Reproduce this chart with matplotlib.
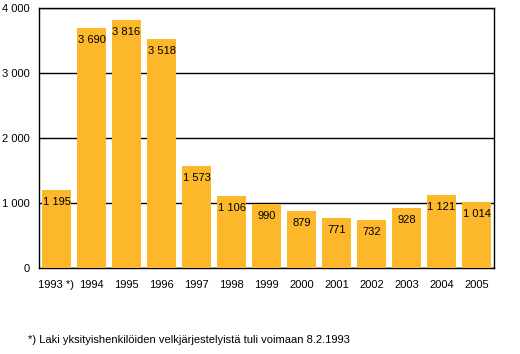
import matplotlib
matplotlib.use("Agg")
import matplotlib.pyplot as plt

years = ["1993 *)", "1994", "1995", "1996", "1997", "1998", "1999",
         "2000", "2001", "2002", "2003", "2004", "2005"]
values = [1195, 3690, 3816, 3518, 1573, 1106, 990, 879, 771, 732, 928, 1121, 1014]
yticks = [0, 1000, 2000, 3000, 4000]
footnote = "*) Laki yksityishenkilöiden velkjärjestelyistä tuli voimaan 8.2.1993"

BAR_COLOR = "#fcb82a"


def fmt(v):
    return f"{v:,}".replace(",", " ")


plt.rcParams["font.family"] = ["Liberation Sans", "DejaVu Sans"]
plt.rcParams["font.size"] = 8

fig = plt.figure(figsize=(5.2, 3.54), dpi=100)
ax = fig.add_axes([0.075, 0.243, 0.875, 0.734])

x = list(range(len(years)))
ax.bar(x, values, width=0.83, color=BAR_COLOR, zorder=3)

for xi, v in zip(x, values):
    ax.annotate(fmt(v), (xi, v), xytext=(0, -8.6), textcoords="offset points",
                ha="center", va="center", fontsize=8, zorder=4)

ax.set_xlim(-0.5, len(years) - 0.5)
ax.set_ylim(0, 4000)
ax.set_yticks(yticks)
ax.set_yticklabels([fmt(t) for t in yticks])
ax.set_xticks(x)
ax.set_xticklabels(years)
ax.tick_params(axis="both", length=0, labelsize=8)
ax.tick_params(axis="y", pad=7)
ax.tick_params(axis="x", pad=9)

ax.yaxis.grid(True, color="black", linewidth=1, zorder=0)
ax.set_axisbelow(True)
for side in ["left", "bottom", "right", "top"]:
    ax.spines[side].set_linewidth(1)
    ax.spines[side].set_color("black")

fig.text(28 / 520, 1 - 340 / 354, footnote, fontsize=8, va="center", ha="left")

fig.savefig("out.png", dpi=100)
